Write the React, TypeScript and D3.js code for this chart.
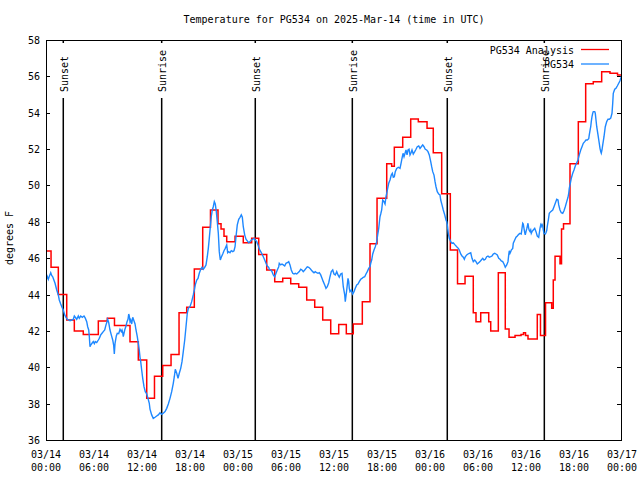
import React from "react";
import * as d3 from "d3";

// Hours since 2025-03-14 00:00 UTC, temperature in degrees F
const analysis: [number, number][] = [[0,46.4],[0.63,45.5],[1.54,44.0],[2.59,42.6],[3.54,42.0],[4.66,41.8],[6.54,42.55],[7.66,42.7],[8.56,42.3],[10.5,41.4],[11.54,40.4],[12.59,38.3],[13.56,39.5],[14.59,40.1],[15.63,40.7],[16.63,43.0],[17.59,43.3],[18.54,45.4],[19.59,47.7],[20.56,48.65],[21.5,47.9],[21.88,47.6],[22.25,47.2],[22.59,46.9],[23.63,47.2],[24.66,46.85],[25.71,47.1],[26.59,46.2],[27.59,45.35],[28.59,44.7],[29.59,44.9],[30.59,44.6],[31.59,44.4],[32.59,43.7],[33.59,43.3],[34.59,42.6],[35.59,41.85],[36.59,42.35],[37.54,41.85],[38.41,42.38],[39.54,43.6],[40.5,46.8],[41.38,49.3],[42.59,51.2],[43.21,51.05],[43.54,52.1],[44.59,52.65],[45.59,53.65],[46.54,53.5],[47.63,53.15],[48.41,51.8],[49.46,49.55],[50.54,46.45],[51.44,44.6],[52.38,45.0],[53.41,43.0],[53.75,42.5],[54.34,43.0],[55.34,42.5],[55.59,42.0],[56.54,45.2],[57.41,42.1],[57.88,41.65],[58.63,41.75],[59.38,41.8],[59.69,41.9],[59.94,41.75],[60.25,41.55],[61.41,42.9],[61.81,41.75],[62.44,43.55],[63.21,43.25],[63.41,44.8],[63.63,46.1],[64.25,45.7],[64.44,47.6],[64.69,47.9],[65.5,51.2],[66.54,53.5],[67.46,55.6],[68.41,55.7],[69.46,56.26],[70.5,56.17],[71.44,56.08],[72,56.08]];

const observed: [number, number][] = [[0.05,44.84],[0.16,45.0],[0.29,44.84],[0.41,45.0],[0.59,45.2],[0.71,45.05],[0.84,44.98],[1.13,44.62],[1.34,44.25],[1.54,43.98],[1.66,43.7],[1.84,43.48],[2.0,43.3],[2.16,43.15],[2.34,42.88],[2.5,42.75],[2.66,42.64],[2.84,42.6],[3.0,42.56],[3.21,42.6],[3.41,42.64],[3.54,42.82],[3.66,42.75],[3.84,42.64],[4.04,42.82],[4.16,42.7],[4.34,42.82],[4.54,42.75],[4.75,42.82],[4.91,42.7],[5.09,42.51],[5.21,42.23],[5.34,42.05],[5.41,41.72],[5.5,41.13],[5.59,41.22],[5.75,41.32],[5.91,41.41],[6.04,41.3],[6.16,41.41],[6.34,41.36],[6.54,41.5],[6.66,41.59],[6.84,41.78],[7.0,41.87],[7.16,41.96],[7.34,42.05],[7.5,42.33],[7.63,42.51],[7.71,42.64],[7.84,42.45],[8.0,42.05],[8.16,41.78],[8.34,41.5],[8.46,41.2],[8.54,40.73],[8.63,41.32],[8.79,41.72],[8.91,41.87],[9.09,41.85],[9.25,42.09],[9.41,41.96],[9.5,42.05],[9.59,41.9],[9.66,41.68],[9.84,42.05],[10.0,42.27],[10.13,42.51],[10.25,42.64],[10.34,42.93],[10.41,42.82],[10.5,42.51],[10.59,42.6],[10.71,42.38],[10.84,42.75],[10.96,42.6],[11.13,42.38],[11.25,42.05],[11.41,41.68],[11.54,41.32],[11.66,40.95],[11.75,40.55],[11.84,40.31],[11.96,39.85],[12.09,39.39],[12.25,38.93],[12.41,38.66],[12.59,38.53],[12.75,38.29],[12.91,38.02],
[13.0,37.7],[13.21,37.38],[13.41,37.19],[13.63,37.25],[13.84,37.32],[14.04,37.38],[14.25,37.5],[14.46,37.41],[14.66,37.47],[14.88,37.56],[15.09,37.74],[15.29,37.98],[15.5,38.29],[15.71,38.66],[15.91,39.12],[16.04,39.48],[16.16,39.89],[16.34,39.67],[16.5,39.39],[16.66,39.67],[16.84,39.94],[17.0,40.31],[17.16,40.86],[17.34,41.5],[17.5,42.23],[17.66,42.97],[17.79,43.24],[18.0,43.33],[18.21,43.61],[18.41,43.98],[18.54,44.25],[18.66,44.53],[18.84,44.8],[19.0,44.89],[19.16,45.17],[19.34,45.39],[19.5,45.5],[19.66,45.39],[19.84,45.5],[20.0,45.63],[20.16,46.08],[20.29,46.54],[20.41,47.09],[20.54,47.73],[20.66,48.28],[20.79,48.65],[20.91,48.83],[21.04,49.11],[21.16,48.98],[21.29,48.56],[21.41,48.01],[21.54,47.37],[21.66,46.36],[21.79,45.9],[21.91,46.05],[22.09,46.23],[22.25,46.41],[22.41,46.54],[22.59,46.73],[22.71,46.3],[22.84,46.36],[23.0,46.3],[23.16,46.41],[23.34,46.36],[23.5,46.41],[23.63,46.63],[23.75,47.18],[23.91,47.83],[24.09,48.14],[24.25,48.25],[24.41,48.38],[24.54,48.25],[24.66,47.73],[24.84,47.27],[25.0,47.04],[25.16,46.95],[25.34,46.85],[25.5,46.91],[25.66,47.0],[25.84,47.04],[26.0,47.09],[26.16,47.0],[26.34,46.91],[26.5,46.73],[26.66,46.5],[26.84,46.36],[27.0,46.23],[27.16,46.08],[27.34,45.9],[27.5,45.72],[27.66,45.57],[27.84,45.5],
[27.91,45.39],[28.09,45.35],[28.25,45.26],[28.41,45.08],[28.59,44.98],[28.75,45.17],[28.91,45.35],[29.09,45.53],[29.16,45.72],[29.34,45.63],[29.5,45.68],[29.66,45.63],[29.84,45.57],[30.0,45.72],[30.16,45.75],[30.34,45.81],[30.5,45.63],[30.66,45.35],[30.84,45.17],[31.0,45.13],[31.16,45.17],[31.34,45.13],[31.5,45.2],[31.66,45.26],[31.84,45.39],[32.0,45.35],[32.16,45.26],[32.34,45.35],[32.5,45.44],[32.66,45.53],[32.84,45.5],[33.0,45.44],[33.16,45.35],[33.34,45.26],[33.5,45.2],[33.66,45.26],[33.84,45.2],[34.0,45.17],[34.16,45.2],[34.34,45.08],[34.5,44.89],[34.66,44.71],[34.84,44.53],[35.0,44.34],[35.16,44.43],[35.34,44.65],[35.5,44.98],[35.66,45.26],[35.84,45.35],[36.0,45.13],[36.16,45.08],[36.34,45.26],[36.5,45.08],[36.66,44.95],[36.84,45.13],[37.0,45.17],[37.16,44.43],[37.34,43.98],[37.41,43.61],[37.59,44.25],[37.75,44.89],[37.84,44.71],[37.91,44.34],[38.0,44.16],[38.16,44.25],[38.34,44.03],[38.5,44.16],[38.66,44.34],[38.84,44.53],[39.0,44.58],[39.16,44.71],[39.34,44.84],[39.5,44.89],[39.66,44.95],[39.84,44.98],[40.0,45.13],[40.16,45.26],[40.34,45.44],[40.5,45.53],
[40.59,45.72],[40.71,45.9],[40.84,46.23],[41.0,46.45],[41.16,46.63],[41.34,46.91],[41.46,47.28],[41.59,47.64],[41.66,47.92],[41.75,48.28],[41.84,48.43],[41.96,48.65],[42.09,49.2],[42.25,49.11],[42.38,48.98],[42.5,49.38],[42.59,49.57],[42.71,49.84],[42.84,50.12],[43.0,50.3],[43.16,50.57],[43.29,50.67],[43.41,50.45],[43.54,50.48],[43.66,50.76],[43.84,50.94],[44.04,51.0],[44.25,50.94],[44.38,51.22],[44.5,51.49],[44.63,51.77],[44.75,51.58],[44.88,51.77],[45.0,51.95],[45.13,51.68],[45.25,51.95],[45.38,51.99],[45.5,51.68],[45.63,51.8],[45.75,51.95],[45.91,51.73],[46.09,51.86],[46.25,51.99],[46.41,52.13],[46.59,52.17],[46.75,52.04],[46.91,52.13],[47.09,52.23],[47.25,52.13],[47.41,51.99],[47.59,51.95],[47.75,51.86],[47.91,51.68],[48.09,51.31],[48.21,51.03],[48.34,50.76],[48.5,50.57],[48.63,50.21],[48.75,49.93],[48.91,49.66],[49.09,49.53],[49.25,49.48],[49.34,49.2],[49.5,48.93],[49.66,48.65],[49.84,48.38],[50.0,48.1],[50.09,48.01],[50.16,47.83],
[50.29,47.37],[50.41,47.09],[50.59,46.91],[50.75,46.82],[50.91,46.85],[51.13,46.73],[51.34,46.63],[51.54,46.54],[51.66,46.45],[51.84,46.23],[52.0,46.12],[52.16,46.05],[52.29,45.94],[52.41,46.08],[52.59,46.18],[52.75,46.23],[52.91,46.27],[53.09,46.3],[53.25,45.99],[53.41,45.81],[53.59,45.9],[53.75,45.81],[53.91,45.68],[54.09,45.75],[54.25,45.81],[54.41,45.9],[54.59,45.99],[54.75,45.9],[54.91,45.94],[55.09,46.08],[55.25,46.12],[55.41,46.05],[55.59,46.08],[55.75,46.12],[55.91,46.23],[56.09,46.27],[56.25,46.23],[56.41,46.18],[56.59,45.99],[56.75,45.94],[56.91,45.85],[57.09,45.81],[57.25,45.68],[57.41,45.5],[57.59,45.63],[57.75,45.81],[57.84,46.18],[57.91,46.41],[58.0,46.27],[58.09,46.36],[58.16,46.45],[58.34,46.54],[58.41,46.82],[58.59,47.0],[58.75,47.15],[58.91,47.22],[59.09,47.31],[59.25,47.37],[59.41,47.33],[59.5,47.64],[59.59,47.92],[59.66,47.88],[59.75,47.64],[59.84,47.4],[59.91,47.28],[60.0,47.46],[60.09,47.61],[60.16,47.75],[60.25,47.92],[60.34,47.64],[60.41,47.52],[60.5,47.46],[60.59,47.55],[60.66,47.37],[60.75,47.46],[60.91,47.55],[61.09,47.64],[61.25,47.46],[61.41,47.22],[61.59,47.15],[61.66,47.37],[61.75,47.64],[61.84,47.83],[61.91,47.75],[62.0,47.86],[62.09,47.77],[62.16,47.55],[62.25,47.37],[62.41,47.33],[62.5,47.4],[62.59,47.52],[62.66,47.75],[62.79,48.1],[62.91,48.47],[63.09,48.56],
[63.34,48.65],[63.5,48.83],[63.66,49.02],[63.84,49.24],[64.0,49.2],[64.09,48.93],[64.25,48.65],[64.41,48.5],[64.59,48.47],[64.75,48.61],[64.91,48.83],[65.09,49.11],[65.25,49.35],[65.34,49.57],[65.41,49.84],[65.5,50.03],[65.66,50.39],[65.84,50.67],[66.0,50.85],[66.16,51.07],[66.34,51.25],[66.5,51.4],[66.66,51.68],[66.84,51.95],[67.0,52.13],[67.16,52.32],[67.34,52.41],[67.5,52.5],[67.66,52.5],[67.84,52.57],[67.91,52.78],[68.0,53.01],[68.09,53.23],[68.16,53.51],[68.25,53.78],[68.34,53.97],[68.41,54.06],[68.59,54.06],[68.66,53.97],[68.75,53.6],[68.84,53.23],[69.0,52.78],[69.16,52.32],[69.25,52.04],[69.34,51.86],[69.41,51.77],[69.5,51.95],[69.59,52.23],[69.75,52.68],[69.91,53.23],[70.09,53.51],[70.25,53.64],[70.41,53.64],[70.59,53.7],[70.75,53.97],[70.84,54.52],[70.91,55.07],[71.09,55.29],[71.25,55.35],[71.41,55.47],[71.59,55.62],[71.75,55.76],[71.84,55.89],[71.94,56.0]];

const sunHours = [2.16, 14.46, 26.16, 38.29, 50.16, 62.29];
const sunLabels = ["Sunset", "Sunrise", "Sunset", "Sunrise", "Sunset", "Sunrise"];

const yTicks = [36, 38, 40, 42, 44, 46, 48, 50, 52, 54, 56, 58];
const xTickHours = [0, 6, 12, 18, 24, 30, 36, 42, 48, 54, 60, 66, 72];
const xTickDates = ["03/14", "03/14", "03/14", "03/14", "03/15", "03/15", "03/15", "03/15", "03/16", "03/16", "03/16", "03/16", "03/17"];
const xTickTimes = ["00:00", "06:00", "12:00", "18:00", "00:00", "06:00", "12:00", "18:00", "00:00", "06:00", "12:00", "18:00", "00:00"];

const seriesNames = ["PG534 Analysis", "PG534"];
const seriesColors = ["#ff0000", "#1e88ff"];
const title = "Temperature for PG534 on 2025-Mar-14 (time in UTC)";
const yLabel = "degrees F";

export default function App() {
  const L = 46, R = 622, T = 40, B = 440;
  const x = d3.scaleLinear().domain([0, 72]).range([L, R]);
  const y = d3.scaleLinear().domain([36, 58]).range([B, T]);
  const redPath = d3.line<[number, number]>().x(d => x(d[0])).y(d => y(d[1])).curve(d3.curveStepAfter)(analysis) || "";
  const bluePath = d3.line<[number, number]>().x(d => x(d[0])).y(d => y(d[1]))(observed) || "";
  const font = "'DejaVu Sans Mono', 'Liberation Mono', monospace";
  return (
    <svg width={640} height={480} style={{ position: "absolute", left: 0, top: 0, background: "#fff" }} fontFamily={font}>
      <rect x={0} y={0} width={640} height={480} fill="#fff" />
      <defs>
        <clipPath id="plotclip"><rect x={L} y={T} width={R - L} height={B - T} /></clipPath>
      </defs>
      <text x={(L + R) / 2} y={23} fontSize={10} textAnchor="middle" fill="#000">{title}</text>
      {yTicks.map(v => {
        const yy = Math.round(y(v)) + 0.5;
        return (
          <g key={"y" + v}>
            <line x1={L} x2={L + 4} y1={yy} y2={yy} stroke="#000" shapeRendering="crispEdges" />
            <line x1={R - 5} x2={R - 1} y1={yy} y2={yy} stroke="#000" shapeRendering="crispEdges" />
            <text x={40} y={yy + 3.5} fontSize={10} textAnchor="end" fill="#000">{v}</text>
          </g>
        );
      })}
      {xTickHours.map((h, i) => (
        <g key={"x" + h}>
          <text x={x(h)} y={457.5} fontSize={10} textAnchor="middle" fill="#000">{xTickDates[i]}</text>
          <text x={x(h)} y={471} fontSize={10} textAnchor="middle" fill="#000">{xTickTimes[i]}</text>
        </g>
      ))}
      <text transform={`translate(13,238) rotate(-90)`} fontSize={10} textAnchor="middle" fill="#000">{yLabel}</text>
      {sunHours.map((h, i) => (
        <line key={"s" + i} x1={x(h)} x2={x(h)} y1={T} y2={B} stroke="#000" strokeWidth={1.5} />
      ))}
      <g clipPath="url(#plotclip)">
        <path d={redPath} fill="none" stroke={seriesColors[0]} strokeWidth={1.5} />
        <path d={bluePath} fill="none" stroke={seriesColors[1]} strokeWidth={1.4} />
      </g>
      <rect x={L + 0.5} y={T + 0.5} width={R - L - 1} height={B - T} fill="none" stroke="#000" shapeRendering="crispEdges" />
      {sunHours.map((h, i) => (
        <g key={"sl" + i}>
          <rect x={x(h) - 5} y={43} width={10} height={55} fill="#fff" />
          <text transform={`translate(${x(h) + 4.5},92) rotate(-90)`} fontSize={10} textAnchor="start" fill="#000">{sunLabels[i]}</text>
        </g>
      ))}
      {seriesNames.map((name, i) => (
        <g key={"leg" + i}>
          <text x={574} y={53.5 + i * 14.5} fontSize={10} textAnchor="end" fill="#000">{name}</text>
          <line x1={581} x2={609} y1={49.5 + i * 14.5} y2={49.5 + i * 14.5} stroke={seriesColors[i]} strokeWidth={1.3} />
        </g>
      ))}
    </svg>
  );
}
